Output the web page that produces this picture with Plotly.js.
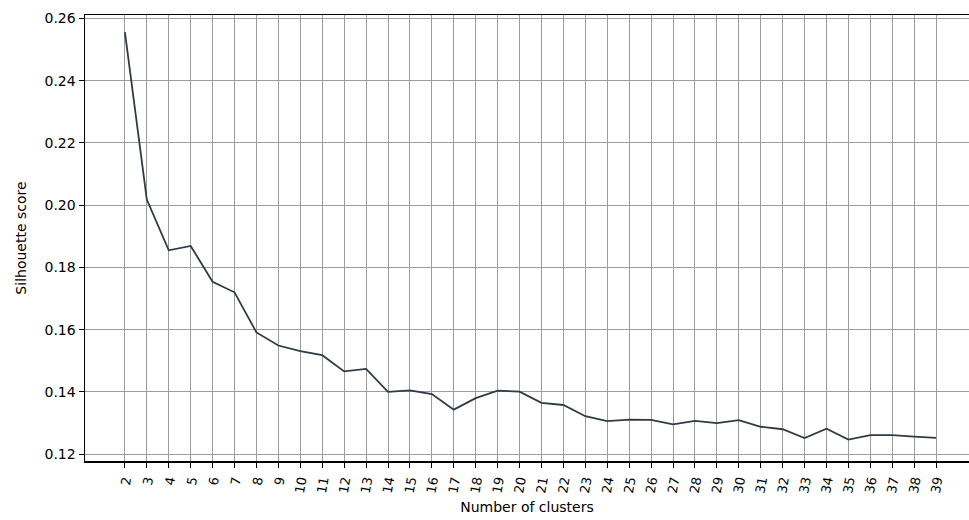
<!DOCTYPE html>
<html>
<head>
<meta charset="utf-8">
<script src="https://cdn.plot.ly/plotly-3.0.1.min.js"></script>
<style>html,body{margin:0;padding:0;background:#fff;}#chart{width:969px;height:520px;}</style>
</head>
<body>
<div id="chart"></div>
<script>
const clusters = [2,3,4,5,6,7,8,9,10,11,12,13,14,15,16,17,18,19,20,21,22,23,24,25,26,27,28,29,30,31,32,33,34,35,36,37,38,39];
const silhouette = [0.2556,0.2018,0.1855,0.1869,0.1754,0.1720,0.1591,0.1549,0.1531,0.1518,0.1466,0.1474,0.1400,0.1405,0.1393,0.1343,0.1380,0.1404,0.1401,0.1365,0.1358,0.1322,0.1306,0.1311,0.1310,0.1296,0.1307,0.1300,0.1309,0.1288,0.1280,0.1252,0.1282,0.1247,0.1261,0.1261,0.1256,0.1252];
const yTicks = [0.12,0.14,0.16,0.18,0.20,0.22,0.24,0.26];
const xLabel = 'Number of clusters';
const yLabel = 'Silhouette score';

const trace = {
  x: clusters, y: silhouette, type: 'scatter', mode: 'lines',
  line: {color: '#2f3b47', width: 1.8}, hoverinfo: 'skip'
};
const font = {family: 'DejaVu Sans, sans-serif', size: 13, color: '#000'};
const layout = {
  width: 969, height: 520,
  margin: {l: 85, r: 0, t: 15, b: 59, pad: 0},
  paper_bgcolor: '#fff', plot_bgcolor: '#fff',
  showlegend: false,
  font: font,
  xaxis: {
    range: [0.18, 40.5],
    tickvals: clusters, ticktext: clusters.map(String),
    tickangle: -80,
    tickfont: {family: 'DejaVu Sans, sans-serif', size: 13, color: '#000'},
    ticks: 'outside', ticklen: 5, tickwidth: 1, tickcolor: '#000',
    showgrid: true, gridcolor: '#9c9c9c', gridwidth: 1,
    showline: true, linecolor: '#000', linewidth: 1.5, mirror: true,
    zeroline: false,
    title: {text: xLabel, font: {family: 'DejaVu Sans, sans-serif', size: 14, color: '#000'}, standoff: 8}
  },
  yaxis: {
    range: [0.1178, 0.2611],
    tickvals: yTicks, ticktext: yTicks.map(v => v.toFixed(2)),
    tickfont: {family: 'DejaVu Sans, sans-serif', size: 14, color: '#000'},
    ticks: 'outside', ticklen: 5, tickwidth: 1, tickcolor: '#000',
    showgrid: true, gridcolor: '#9c9c9c', gridwidth: 1,
    showline: true, linecolor: '#000', linewidth: 1.5,
    zeroline: false,
    title: {text: yLabel, font: {family: 'DejaVu Sans, sans-serif', size: 14, color: '#000'}, standoff: 14}
  }
};
Plotly.newPlot('chart', [trace], layout, {staticPlot: true, displayModeBar: false});
</script>
</body>
</html>
